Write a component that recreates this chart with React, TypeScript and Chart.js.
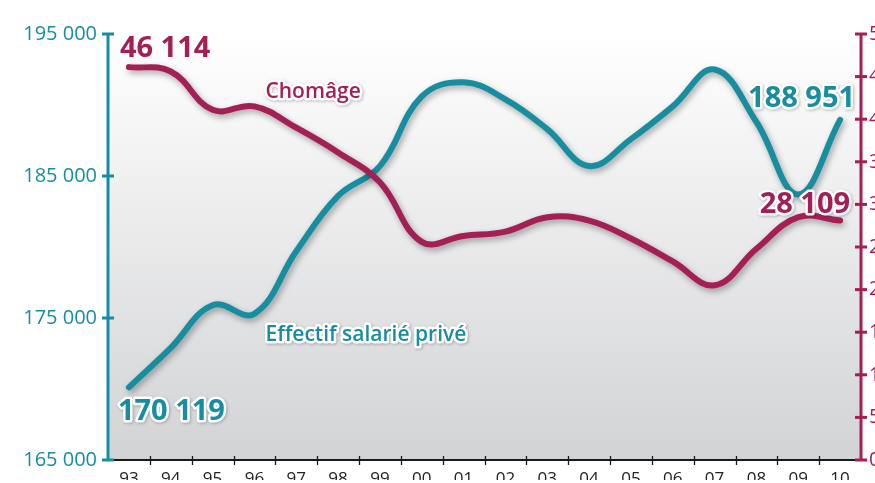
import React, { useEffect, useRef } from "react";
import { Chart, registerables } from "chart.js";

Chart.register(...registerables);

const years = ["93", "94", "95", "96", "97", "98", "99", "00", "01", "02", "03", "04", "05", "06", "07", "08", "09", "10"];
const effectif = [170119, 172900, 175900, 175300, 179700, 183600, 185700, 190600, 191600, 190400, 188300, 185700, 187600, 189900, 192500, 188800, 183700, 188951];
const chomage = [46114, 45600, 41100, 41500, 39000, 36100, 32600, 25600, 26300, 26800, 28500, 28100, 26000, 23300, 20500, 24800, 28500, 28109];
const leftTicks = [165000, 175000, 185000, 195000];
const rightTicks = [0, 5000, 10000, 15000, 20000, 25000, 30000, 35000, 40000, 45000, 50000];

const TEAL = "#178da0";
const CRIMSON = "#a41f55";
const FONT = "'Open Sans', 'DejaVu Sans', sans-serif";

const fmt = (v: number) => String(v).replace(/\B(?=(\d{3})+(?!\d))/g, " ");

function txt(ctx: CanvasRenderingContext2D, s: string, x: number, y: number, font: string, color: string, align: CanvasTextAlign, outline: boolean) {
  ctx.save();
  ctx.font = font;
  ctx.textAlign = align;
  ctx.textBaseline = "alphabetic";
  if (outline) {
    ctx.shadowColor = "rgba(0,0,0,0.25)";
    ctx.shadowBlur = 3;
    ctx.shadowOffsetX = 1;
    ctx.shadowOffsetY = 1;
    ctx.strokeStyle = "#ffffff";
    ctx.lineWidth = 5;
    ctx.lineJoin = "round";
    ctx.strokeText(s, x, y);
    ctx.shadowColor = "transparent";
  }
  ctx.fillStyle = color;
  ctx.fillText(s, x, y);
  ctx.restore();
}

const deco = {
  id: "deco",
  beforeDatasetsDraw(chart: any) {
    const { ctx, chartArea: a } = chart;
    const g = ctx.createLinearGradient(0, a.top, 0, a.bottom);
    g.addColorStop(0, "#ffffff");
    g.addColorStop(1, "#d2d3d5");
    ctx.save();
    ctx.fillStyle = g;
    ctx.fillRect(a.left, a.top - 34, a.right - a.left, a.bottom - a.top + 34);
    ctx.restore();
  },
  beforeDatasetDraw(chart: any) {
    const ctx = chart.ctx;
    ctx.save();
    ctx.shadowColor = "rgba(0,0,0,0.35)";
    ctx.shadowBlur = 6;
    ctx.shadowOffsetX = 2;
    ctx.shadowOffsetY = 3;
  },
  afterDatasetDraw(chart: any) {
    chart.ctx.restore();
  },
  afterDraw(chart: any) {
    const { ctx, chartArea: a, scales } = chart;
    const x = scales.x, yl = scales.y, yr = scales.y1;
    ctx.save();
    ctx.strokeStyle = "#1a1a1a";
    ctx.lineWidth = 2;
    ctx.beginPath();
    ctx.moveTo(a.left, a.bottom);
    ctx.lineTo(a.right, a.bottom);
    ctx.stroke();
    ctx.lineWidth = 1.3;
    for (let i = 1; i < years.length; i++) {
      const px = Math.round((x.getPixelForValue(i - 1) + x.getPixelForValue(i)) / 2) + 0.5;
      ctx.beginPath();
      ctx.moveTo(px, a.bottom - 4);
      ctx.lineTo(px, a.bottom + 5);
      ctx.stroke();
    }
    const drawAxis = (scale: any, ticks: number[], px: number, color: string) => {
      ctx.strokeStyle = color;
      ctx.lineWidth = 3;
      ctx.beginPath();
      ctx.moveTo(px, scale.getPixelForValue(ticks[ticks.length - 1]));
      ctx.lineTo(px, scale.getPixelForValue(ticks[0]));
      ctx.stroke();
      for (const t of ticks) {
        const py = scale.getPixelForValue(t);
        ctx.beginPath();
        ctx.moveTo(px - 6, py);
        ctx.lineTo(px + 6, py);
        ctx.stroke();
      }
    };
    drawAxis(yl, leftTicks, a.left, TEAL);
    drawAxis(yr, rightTicks, a.right, CRIMSON);
    ctx.restore();

    const big = `bold 29px ${FONT}`;
    const mid = `600 21px ${FONT}`;
    const last = years.length - 1;
    const p0c = { x: x.getPixelForValue(0), y: yr.getPixelForValue(chomage[0]) };
    const p0e = { x: x.getPixelForValue(0), y: yl.getPixelForValue(effectif[0]) };
    const pLc = { x: x.getPixelForValue(last), y: yr.getPixelForValue(chomage[last]) };
    const pLe = { x: x.getPixelForValue(last), y: yl.getPixelForValue(effectif[last]) };
    txt(ctx, fmt(chomage[0]), p0c.x - 9, p0c.y - 10, big, CRIMSON, "left", false);
    txt(ctx, fmt(effectif[0]), p0e.x - 11, p0e.y + 33, big, TEAL, "left", true);
    txt(ctx, fmt(effectif[last]), pLe.x + 15, pLe.y - 13, big, TEAL, "right", true);
    txt(ctx, fmt(chomage[last]), pLc.x + 10, pLc.y - 8, big, CRIMSON, "right", true);
    txt(ctx, "Chomâge", x.getPixelForValue(3) + 11, yr.getPixelForValue(42500), mid, CRIMSON, "left", true);
    txt(ctx, "Effectif salarié privé", x.getPixelForValue(3) + 11, yl.getPixelForValue(173350), mid, TEAL, "left", true);
  },
};

export default function App() {
  const ref = useRef<HTMLCanvasElement>(null);
  useEffect(() => {
    if (!ref.current) return;
    const chart = new Chart(ref.current, {
      type: "line",
      data: {
        labels: years,
        datasets: [
          {
            label: "Chomâge",
            data: chomage,
            yAxisID: "y1",
            borderColor: CRIMSON,
            borderWidth: 6,
            borderCapStyle: "round",
            borderJoinStyle: "round",
            pointRadius: 0,
            tension: 0.4,
            fill: false,
          },
          {
            label: "Effectif salarié privé",
            data: effectif,
            yAxisID: "y",
            borderColor: TEAL,
            borderWidth: 6,
            borderCapStyle: "round",
            borderJoinStyle: "round",
            pointRadius: 0,
            tension: 0.4,
            fill: false,
          },
        ],
      },
      options: {
        responsive: false,
        animation: false,
        clip: false as any,
        layout: { padding: { top: 34, left: 0, right: 0, bottom: 0 } },
        plugins: { legend: { display: false }, tooltip: { enabled: false }, title: { display: false } },
        scales: {
          x: {
            type: "category",
            offset: true,
            grid: { display: false, drawTicks: false, tickLength: 0 },
            border: { display: false },
            ticks: { color: "#222222", font: { family: FONT, size: 17 }, padding: 9, maxRotation: 0, autoSkip: false },
            afterFit: (s: any) => { s.height = 20; },
          },
          y: {
            position: "left",
            min: 165000,
            max: 195000,
            grid: { display: false, drawTicks: false, tickLength: 0 },
            border: { display: false },
            afterBuildTicks: (s: any) => { s.ticks = leftTicks.map((v) => ({ value: v })); },
            ticks: { color: TEAL, font: { family: FONT, size: 20 }, padding: 11, autoSkip: false, callback: (v: any) => fmt(Number(v)) },
            afterFit: (s: any) => { s.width = 108; },
          },
          y1: {
            position: "right",
            min: 0,
            max: 50000,
            grid: { display: false, drawTicks: false, tickLength: 0 },
            border: { display: false },
            afterBuildTicks: (s: any) => { s.ticks = rightTicks.map((v) => ({ value: v })); },
            ticks: { color: CRIMSON, font: { family: FONT, size: 20 }, padding: 8, autoSkip: false, callback: (v: any) => fmt(Number(v)) },
            afterFit: (s: any) => { s.width = 99; },
          },
        },
      },
      plugins: [deco],
    });
    return () => chart.destroy();
  }, []);
  return (
    <div style={{ position: "fixed", left: 0, top: 0, width: 875, height: 483, overflow: "hidden", background: "#ffffff" }}>
      <canvas ref={ref} width={960} height={483} style={{ display: "block" }} />
    </div>
  );
}
